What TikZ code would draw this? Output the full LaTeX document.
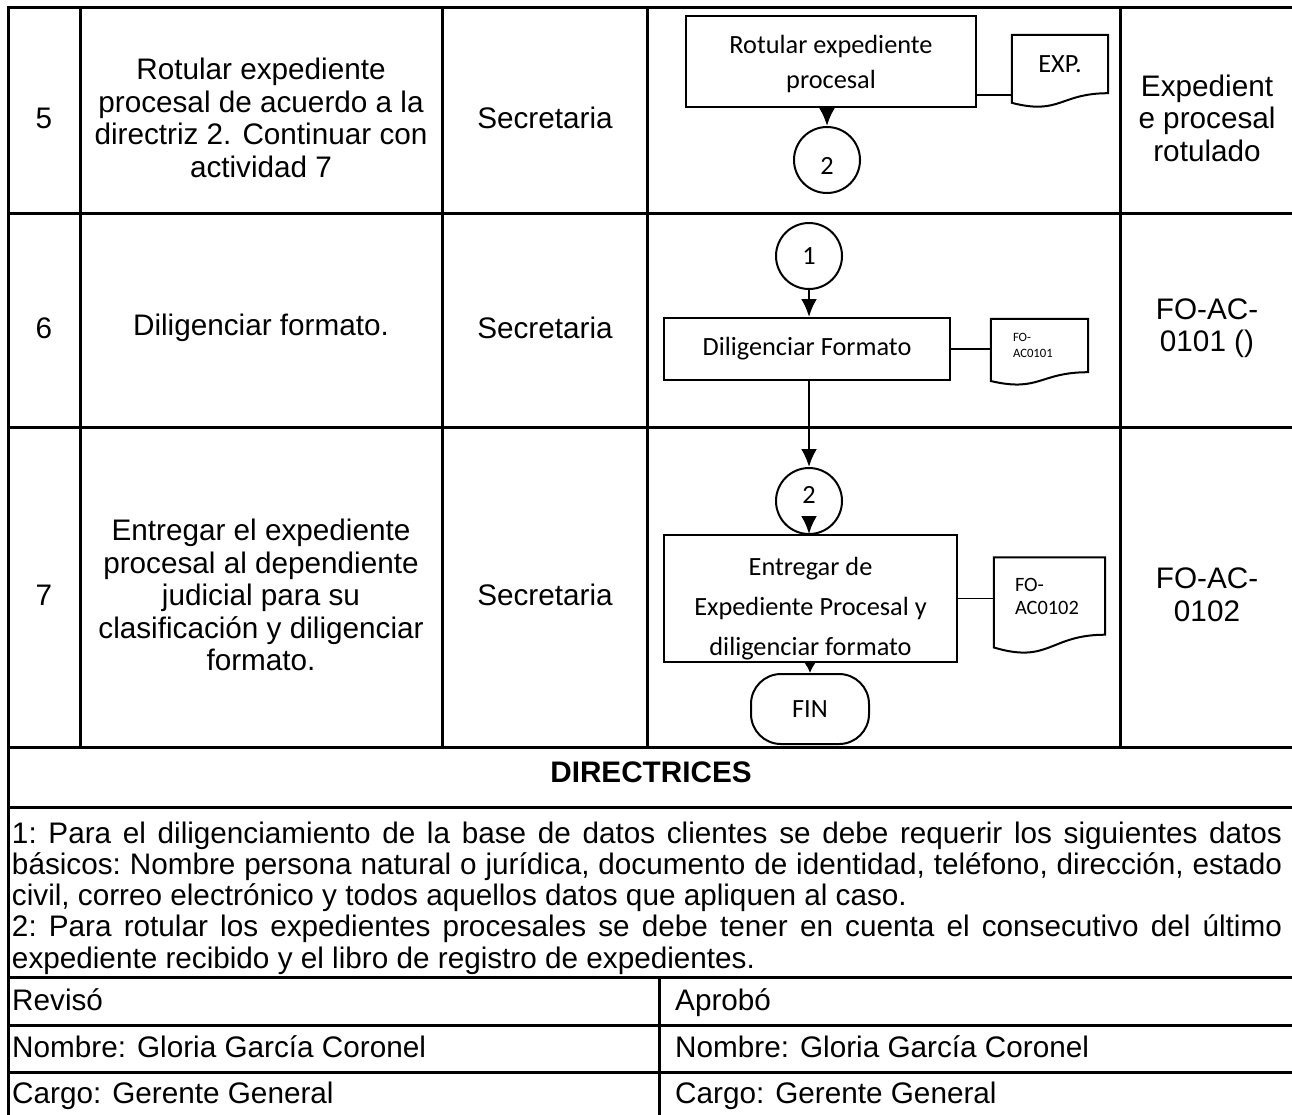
\documentclass[tikz,border=0pt]{standalone}
\usepackage{fontspec}
\setmainfont{Liberation Sans}
\newfontfamily\flowfont{Carlito}
\usetikzlibrary{arrows.meta, calc, math, positioning}

\tikzset{
 tablerule/.style={line width=3pt, line cap=rect},
 celltext/.style={align=center, inner sep=0pt, font=\fontsize{29.7}{32.5}\selectfont},
 flowline/.style={line width=2pt},
 procbox/.style={draw, flowline, rectangle, align=center, inner sep=0pt, font=\flowfont\fontsize{26.3}{37}\selectfont},
 connbox/.style={draw, flowline, circle, minimum size=66pt, inner sep=0pt, font=\flowfont\fontsize{26.3}{32}\selectfont},
 docbox/.style={rectangle, inner ysep=0pt, align=left},
 flowarrow/.style={-{Latex[length=18pt,width=16pt]}, line width=2.5pt},
 shortarrow/.style={-{Latex[length=12pt,width=14pt]}, line width=2.5pt},
}

% document symbol drawn round a named node
\newcommand{\docwave}[1]{%
 \draw[flowline] ($(#1.south west)!-0.165!(#1.north west)$) -- (#1.north west) -- (#1.north east) -- (#1.south east)
   .. controls (#1.south) and ($(#1.south)!-0.38!(#1.north)$) .. ($(#1.south west)!-0.165!(#1.north west)$) -- cycle;}

\begin{document}
\begin{tikzpicture}[x=1pt, y=-1pt]
\tikzmath{
\xa=8; \xb=80; \xc=442; \xd=647; \xe=1120; \xf=1294; \xm=659;
\ya=7; \yb=213; \yc=427; \yd=747; \ye=807; \yf=977; \yg=1025; \yh=1072; \yi=1116;
}
\useasboundingbox (0,0) rectangle (1292,1114);

 %table rules
 \draw[tablerule] (\xa,\ya) -- (\xf,\ya);
 \draw[tablerule] (\xa,\yb) -- (\xf,\yb);
 \draw[tablerule] (\xa,\yc) -- (\xf,\yc);
 \draw[tablerule] (\xa,\yd) -- (\xf,\yd);
 \draw[tablerule] (\xa,\ye) -- (\xf,\ye);
 \draw[tablerule] (\xa,\yf) -- (\xf,\yf);
 \draw[tablerule] (\xa,\yg) -- (\xf,\yg);
 \draw[tablerule] (\xa,\yh) -- (\xf,\yh);
 \draw[tablerule] (\xa,\yi) -- (\xf,\yi);
 \draw[tablerule] (\xa,\ya) -- (\xa,\yi);
 \draw[tablerule] (\xf,\ya) -- (\xf,\yi);
 \draw[tablerule] (\xb,\ya) -- (\xb,\yd);
 \draw[tablerule] (\xc,\ya) -- (\xc,\yd);
 \draw[tablerule] (\xd,\ya) -- (\xd,\yd);
 \draw[tablerule] (\xe,\ya) -- (\xe,\yd);
 \draw[tablerule] (\xm,\yf) -- (\xm,\yi);

 %row 5
 \node[celltext] (N5) at (44,118) {5};
 \node[celltext] (A5) at (261,118) {Rotular expediente\\procesal de acuerdo a la\\directriz 2. Continuar con\\actividad 7};
 \node[celltext] (R5) at (545,118) {Secretaria};
 \node[celltext] (O5) at (1207,118) {Expedient\\e procesal\\rotulado};

 %row 6
 \node[celltext] (N6) at (44,328) {6};
 \node[celltext] (A6) at (261,328) {Diligenciar formato.};
 \node[celltext] (R6) at (545,328) {Secretaria};
 \node[celltext] (O6) at (1207,328) {FO-AC-\\0101 ()};

 %row 7
 \node[celltext] (N7) at (44,595) {7};
 \node[celltext] (A7) at (261,595) {Entregar el expediente\\procesal al dependiente\\judicial para su\\clasificación y diligenciar\\formato.};
 \node[celltext] (R7) at (545,595) {Secretaria};
 \node[celltext] (O7) at (1207,595) {FO-AC-\\0102};

 %flow 5
 \node[procbox, minimum width=290pt, minimum height=91pt, text height=59pt, font=\flowfont\fontsize{26.3}{35}\selectfont] (B5) at (831,61.5) {Rotular expediente\\procesal};
 \node[docbox, minimum width=96pt, minimum height=58pt, align=center, font=\flowfont\fontsize{26.3}{32}\selectfont] (D5) at (1060,64) {EXP.};
 \docwave{D5}
 \node[connbox, text height=30pt, text depth=1pt] (C5) at (827,160) {2};
 \coordinate (J5) at ($(B5.south east)!0.14!(B5.north east)$);
 \draw[line width=1.5pt] (J5) -- (J5 -| D5.west);
 \draw[flowarrow] (C5.north |- B5.south) -- (C5.north);

 %flow 6
 \node[connbox] (C6) at (809,256) {1};
 \node[procbox, minimum width=286pt, minimum height=62pt] (B6) at (807,349) {Diligenciar Formato};
 \node[docbox, text width=53pt, inner xsep=22pt, minimum height=53pt, font=\flowfont\fontsize{12.7}{16}\selectfont] (D6) at (1039.5,345.5) {FO-\\AC0101};
 \docwave{D6}
 \draw[line width=1.5pt] (B6.east) -- (B6.east -| D6.west);
 \draw[flowarrow] (C6.south) -- (C6.south |- B6.north);

 %flow 7
 \node[connbox, text height=10pt, text depth=5pt] (C7) at (809,501) {2};
 \node[procbox, minimum width=293pt, minimum height=127pt, text height=118pt, font=\flowfont\fontsize{26.3}{40}\selectfont] (B7) at (810.5,598.5) {Entregar de\\Expediente Procesal y\\diligenciar formato};
 \node[docbox, text width=69pt, inner xsep=21pt, minimum height=77pt, font=\flowfont\fontsize{20.4}{23}\selectfont] (D7) at (1049.5,596) {FO-\\AC0102};
 \docwave{D7}
 \node[procbox, rounded corners=30pt, minimum width=118pt, minimum height=70pt] (FIN) at (810,709) {FIN};
 \draw[line width=1.5pt] (B7.east) -- (B7.east -| D7.west);
 \draw[flowarrow] (C7.north |- B6.south) -- (C7.north);
 \draw[flowarrow] ($(C7.south)!0.45!(C7.center)$) -- (C7.south |- B7.north);
 \draw[shortarrow] (FIN.north |- B7.south) -- (FIN.north);

 %directrices
 \node[celltext, font=\bfseries\fontsize{29.7}{33}\selectfont] (DT) at (651,772) {DIRECTRICES};
 \node[text width=1270pt, align=justify, inner sep=0pt, font=\frenchspacing\fontsize{29.7}{31.3}\selectfont] (DX) at (647,898) {1: Para el diligenciamiento de la base de datos clientes se debe requerir los siguientes datos\linebreak básicos: Nombre persona natural o jurídica, documento de identidad, teléfono, dirección, estado\linebreak civil, correo electrónico y todos aquellos datos que apliquen al caso.\par 2: Para rotular los expedientes procesales se debe tener en cuenta el consecutivo del último\linebreak expediente recibido y el libro de registro de expedientes.};

 %firmas
 \node[celltext, anchor=base west] (RV) at (12,1010) {Revisó};
 \node[celltext, anchor=base west] (AP) at (675,1010) {Aprobó};
 \node[celltext, anchor=base west] (RN) at (12,1057) {Nombre: Gloria García Coronel};
 \node[celltext, anchor=base west] (AN) at (675,1057) {Nombre: Gloria García Coronel};
 \node[celltext, anchor=base west] (RC) at (12,1103) {Cargo: Gerente General};
 \node[celltext, anchor=base west] (AC) at (675,1103) {Cargo: Gerente General};
\end{tikzpicture}
\end{document}
